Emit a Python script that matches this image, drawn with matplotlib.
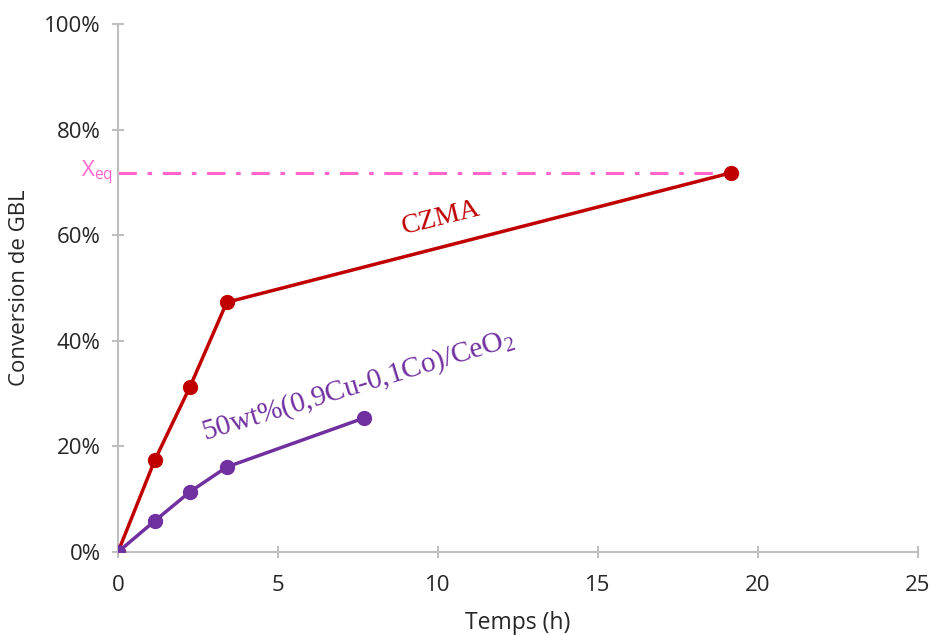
import matplotlib
matplotlib.use("Agg")
import matplotlib.pyplot as plt
from matplotlib.ticker import FuncFormatter

plt.rcParams['font.family'] = ['Open Sans', 'DejaVu Sans']
plt.rcParams['mathtext.default'] = 'regular'

# data (time in h, conversion in %)
czma_t = [0, 1.15, 2.25, 3.4, 19.15]
czma_conv = [0, 17.4, 31.3, 47.3, 71.8]
cuco_t = [0, 1.15, 2.25, 3.4, 7.7]
cuco_conv = [0, 5.9, 11.4, 16.1, 25.4]
x_eq = 71.8

red = '#c00000'
purple = '#7030a0'
pink = '#ff66cc'
grid_grey = '#bfbfbf'
text_grey = '#262626'

fig = plt.figure(figsize=(9.32, 6.35), dpi=100)
ax = fig.add_axes([118 / 932, 1 - 552 / 635, 800 / 932, 528 / 635])

ax.plot([0, czma_t[-1]], [x_eq, x_eq], color=pink, lw=2.2,
        dashes=[6, 3.5, 1.5, 3.5], zorder=2)
ax.plot(czma_t, czma_conv, color=red, lw=2.5, marker='o', ms=10, zorder=3)
ax.plot(cuco_t, cuco_conv, color=purple, lw=2.5, marker='o', ms=10, zorder=4)

ax.text(-0.15, x_eq, 'X$_{eq}$', color=pink, fontsize=16,
        ha='right', va='center', clip_on=False)
ax.text(10.1, 63.3, 'CZMA', color=red, fontsize=20,
        family='Liberation Serif', rotation=14, ha='center', va='center')
ax.text(7.5, 31.5, '50wt%(0,9Cu-0,1Co)/CeO$_2$', color=purple, fontsize=21,
        family='Liberation Serif', rotation=17, ha='center', va='center')

ax.set_xlim(0, 25)
ax.set_ylim(0, 100)
ax.set_xticks(range(0, 26, 5))
ax.set_yticks(range(0, 101, 20))
ax.yaxis.set_major_formatter(FuncFormatter(lambda v, p: f'{v:.0f}%'))

for side in ['top', 'right']:
    ax.spines[side].set_visible(False)
for side in ['left', 'bottom']:
    ax.spines[side].set_color(grid_grey)
    ax.spines[side].set_linewidth(1.5)
ax.tick_params(direction='inout', length=9, width=1.5, color=grid_grey,
               labelsize=16, labelcolor=text_grey, pad=8)
ax.tick_params(axis='x', pad=12)

ax.set_xlabel('Temps (h)', fontsize=16.5, color=text_grey, labelpad=11)
ax.set_ylabel('Conversion de GBL', fontsize=16, color=text_grey, labelpad=10)

fig.savefig('out.png', dpi=100)
